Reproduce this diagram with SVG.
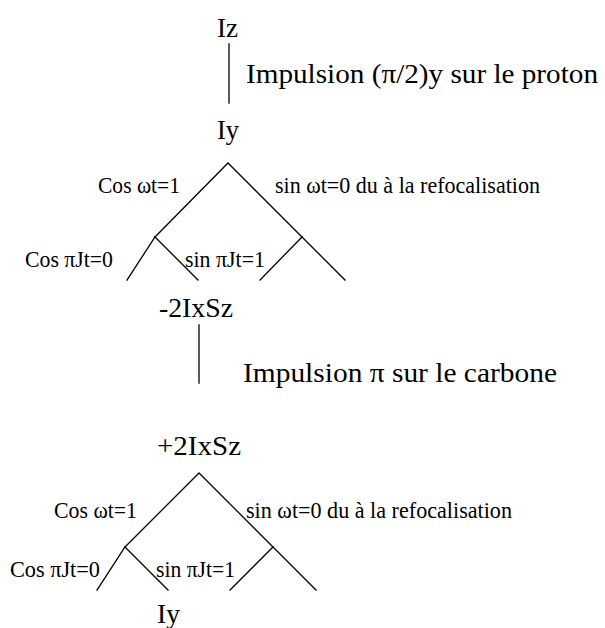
<svg xmlns="http://www.w3.org/2000/svg" width="605" height="628" viewBox="0 0 605 628">
<style>
  .main { font-family: "Liberation Serif", "Times New Roman", serif; font-size: 27px; fill: #000; }
  .lbl { font-family: "Liberation Serif", "Times New Roman", serif; font-size: 23.5px; fill: #000; }
  .ln { stroke: #000; stroke-width: 1.3; fill: none; stroke-linecap: square; }
</style>
<rect width="605" height="628" fill="#fff"/>
<g id="connectors">
  <line class="ln" x1="229" y1="44" x2="229" y2="103"/>
  <polyline class="ln" points="155,237 228,163 302,237"/>
  <line class="ln" x1="155" y1="237" x2="127" y2="280"/>
  <line class="ln" x1="155" y1="237" x2="198" y2="280"/>
  <line class="ln" x1="302" y1="237" x2="260" y2="280"/>
  <line class="ln" x1="302" y1="237" x2="345" y2="280"/>
  <line class="ln" x1="199" y1="325" x2="199" y2="383"/>
  <polyline class="ln" points="125,547 199,473 273,547"/>
  <line class="ln" x1="125" y1="547" x2="97" y2="590"/>
  <line class="ln" x1="125" y1="547" x2="168" y2="590"/>
  <line class="ln" x1="273" y1="547" x2="230" y2="590"/>
  <line class="ln" x1="273" y1="547" x2="316" y2="590"/>
</g>
<g id="node-iz"><text class="main" x="217" y="37" textLength="21" lengthAdjust="spacingAndGlyphs">Iz</text></g>
<g id="label-proton"><text class="main" x="246" y="83" textLength="352" lengthAdjust="spacingAndGlyphs">Impulsion (π/2)y sur le proton</text></g>
<g id="node-iy1"><text class="main" x="217" y="139" textLength="22" lengthAdjust="spacingAndGlyphs">Iy</text></g>
<g id="labels-tree1">
  <text class="lbl" x="98" y="193" textLength="82" lengthAdjust="spacingAndGlyphs">Cos ωt=1</text>
  <text class="lbl" x="275" y="193" textLength="265" lengthAdjust="spacingAndGlyphs">sin ωt=0 du à la refocalisation</text>
  <text class="lbl" x="25" y="267" textLength="88" lengthAdjust="spacingAndGlyphs">Cos πJt=0</text>
  <text class="lbl" x="185" y="267" textLength="80" lengthAdjust="spacingAndGlyphs">sin πJt=1</text>
</g>
<g id="node-m2ixsz"><text class="main" x="159" y="317" textLength="74" lengthAdjust="spacingAndGlyphs">-2IxSz</text></g>
<g id="label-carbone"><text class="main" x="243" y="382" textLength="314" lengthAdjust="spacingAndGlyphs">Impulsion π sur le carbone</text></g>
<g id="node-p2ixsz"><text class="main" x="157" y="455" textLength="84" lengthAdjust="spacingAndGlyphs">+2IxSz</text></g>
<g id="labels-tree2">
  <text class="lbl" x="54" y="518" textLength="83" lengthAdjust="spacingAndGlyphs">Cos ωt=1</text>
  <text class="lbl" x="246" y="518" textLength="266" lengthAdjust="spacingAndGlyphs">sin ωt=0 du à la refocalisation</text>
  <text class="lbl" x="10" y="577" textLength="90" lengthAdjust="spacingAndGlyphs">Cos πJt=0</text>
  <text class="lbl" x="156" y="577" textLength="79" lengthAdjust="spacingAndGlyphs">sin πJt=1</text>
</g>
<g id="node-iy2"><text class="main" x="157" y="623" textLength="23" lengthAdjust="spacingAndGlyphs">Iy</text></g>
</svg>
